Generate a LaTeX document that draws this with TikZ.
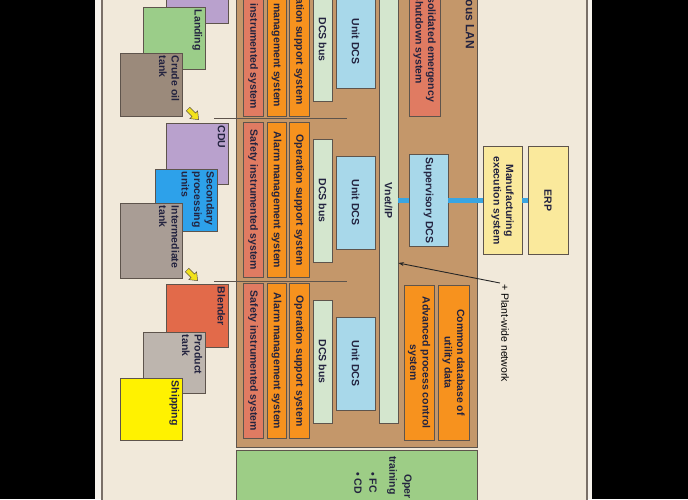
\documentclass[tikz,border=0pt]{standalone}
\usepackage{fontspec}
\setmainfont{Liberation Sans}
\usetikzlibrary{arrows.meta}

\definecolor{paper}{HTML}{F1E9DA}
\definecolor{margin}{HTML}{F7F3EC}
\definecolor{frame}{HTML}{7A7068}
\definecolor{edge}{HTML}{5E544C}
\definecolor{ink}{HTML}{23233F}
\definecolor{lanbrown}{HTML}{C4976A}
\definecolor{sisred}{HTML}{E07B62}
\definecolor{orng}{HTML}{F7921E}
\definecolor{busgreen}{HTML}{D4E6CE}
\definecolor{dcsblue}{HTML}{A8D8EA}
\definecolor{trgreen}{HTML}{9DCD86}
\definecolor{mesyellow}{HTML}{FAE99C}
\definecolor{lilac}{HTML}{B9A1CD}
\definecolor{landgreen}{HTML}{9BCD89}
\definecolor{crudebrown}{HTML}{9B8A7B}
\definecolor{tankgray}{HTML}{A99D95}
\definecolor{secblue}{HTML}{2DA1EA}
\definecolor{blendred}{HTML}{E26A4A}
\definecolor{prodgray}{HTML}{BDB5AE}
\definecolor{shipyellow}{HTML}{FFF200}
\definecolor{netblue}{HTML}{39A5E2}
\definecolor{arrowyellow}{HTML}{F2E21A}

\tikzset{
  box/.style={draw=edge, line width=0.8pt, inner sep=1pt, align=center, text=ink,
    font=\bfseries\fontsize{10.5}{12.5}\selectfont},
  stage/.style={draw=edge, line width=0.8pt, minimum width=62, minimum height=62},
  tag/.style={anchor=north west, inner sep=3pt, align=left, text=ink,
    font=\bfseries\fontsize{10.5}{12.5}\selectfont},
  sepline/.style={draw=edge, line width=0.9pt},
  netline/.style={draw=netblue, line width=5pt},
  flowarrow/.style={fill=arrowyellow, draw=edge, line width=0.5pt},
  note/.style={anchor=west, inner sep=0pt, text=ink, font=\bfseries\fontsize{10.5}{12.5}\selectfont}
}

\begin{document}
\begin{tikzpicture}[x=1pt, y=1pt, rotate=-90, transform shape]

  \useasboundingbox (0,0) rectangle (499,688);
  \fill[black] (0,0) rectangle (499,688);
  \fill[margin] (0,95) rectangle (499,592);
  \draw[draw=frame, fill=paper, line width=1.2pt] (-10,102) rectangle (510,587);

  \draw[draw=edge, fill=lanbrown, line width=1pt] (-10,236) rectangle (447,477);
  \draw[draw=edge, fill=trgreen, line width=1pt] (450,236) rectangle (510,477);
  \node[note, font=\bfseries\fontsize{12}{14}\selectfont] (lanname) at (-0.5,470) {ous LAN};

  \begin{scope}
    \node[box, fill=sisred, minimum width=155, minimum height=20] (sis1) at (39,253) {Safety instrumented system};
    \node[box, fill=orng, minimum width=155, minimum height=19] (ams1) at (39,276.5) {Alarm management system};
    \node[box, fill=orng, minimum width=155, minimum height=20] (oss1) at (39,299) {Operation support system};
    \node[box, fill=busgreen, minimum width=123, minimum height=19] (bus1) at (39.5,322.5) {DCS bus};
    \node[box, fill=dcsblue, minimum width=93, minimum height=39] (udcs1) at (41.5,355.5) {Unit DCS};
  \end{scope}

  \begin{scope}[xshift=161pt]
    \node[box, fill=sisred, minimum width=155, minimum height=20] (sis2) at (39,253) {Safety instrumented system};
    \node[box, fill=orng, minimum width=155, minimum height=19] (ams2) at (39,276.5) {Alarm management system};
    \node[box, fill=orng, minimum width=155, minimum height=20] (oss2) at (39,299) {Operation support system};
    \node[box, fill=busgreen, minimum width=123, minimum height=19] (bus2) at (39.5,322.5) {DCS bus};
    \node[box, fill=dcsblue, minimum width=93, minimum height=39] (udcs2) at (41.5,355.5) {Unit DCS};
  \end{scope}

  \begin{scope}[xshift=322pt]
    \node[box, fill=sisred, minimum width=155, minimum height=20] (sis3) at (39,253) {Safety instrumented system};
    \node[box, fill=orng, minimum width=155, minimum height=19] (ams3) at (39,276.5) {Alarm management system};
    \node[box, fill=orng, minimum width=155, minimum height=20] (oss3) at (39,299) {Operation support system};
    \node[box, fill=busgreen, minimum width=123, minimum height=19] (bus3) at (39.5,322.5) {DCS bus};
    \node[box, fill=dcsblue, minimum width=93, minimum height=39] (udcs3) at (41.5,355.5) {Unit DCS};
  \end{scope}

  \draw[sepline] (118,214) -- (118,347);
  \draw[sepline] (281,214) -- (281,347);

  \node[box, fill=busgreen, minimum width=445, minimum height=19] (vnet) at (200.5,388.5) {Vnet/IP};
  \node[box, fill=sisred, minimum width=153, minimum height=31] (ceds) at (39.5,424.5) {Consolidated emergency\\shutdown system};
  \node[box, fill=dcsblue, minimum width=92, minimum height=39] (sup) at (200.5,428.5) {Supervisory DCS};
  \node[box, fill=orng, minimum width=155, minimum height=30] (apc) at (362.5,419) {Advanced process control\\system};
  \node[box, fill=orng, minimum width=155, minimum height=31] (cdb) at (362.5,453.5) {Common database of\\utility data};
  \node[box, fill=mesyellow, minimum width=108, minimum height=39] (mes) at (200.5,502.5) {Manufacturing\\execution system};
  \node[box, fill=mesyellow, minimum width=108, minimum height=40] (erp) at (200.5,548) {ERP};

  \draw[netline] (vnet.north) -- (sup.south) (sup.north) -- (mes.south) (mes.north) -- (erp.south);

  \node[stage, fill=lilac, minimum width=63] (feed) at (-8.5,197) {};
  \node[stage, fill=landgreen] (landing) at (38,174) [label={[tag]north west:Landing}] {};
  \node[stage, fill=crudebrown, minimum width=63] (crude) at (84.5,151) [label={[tag]north west:{Crude oil\\tank}}] {};
  \begin{scope}[shift={(114,193)}, rotate=45]
    \draw[flowarrow] (-7,-2.5) -- (1,-2.5) -- (1,-5.5) -- (8,0) -- (1,5.5) -- (1,2.5) -- (-7,2.5) -- cycle;
  \end{scope}
  \node[stage, fill=lilac, minimum width=61] (cdu) at (153.5,197) [label={[tag]north west:CDU}] {};
  \node[stage, fill=secblue] (spu) at (200,186) [label={[tag]north west:{Secondary\\processing\\units}}] {};
  \node[stage, fill=tankgray, minimum width=75] (itank) at (240.5,151) [label={[tag]north west:{Intermediate\\tank}}] {};
  \begin{scope}[shift={(275,192)}, rotate=45]
    \draw[flowarrow] (-7,-2.5) -- (1,-2.5) -- (1,-5.5) -- (8,0) -- (1,5.5) -- (1,2.5) -- (-7,2.5) -- cycle;
  \end{scope}
  \node[stage, fill=blendred, minimum width=63] (blender) at (315.5,197) [label={[tag]north west:Blender}] {};
  \node[stage, fill=prodgray, minimum width=61] (ptank) at (362.5,174) [label={[tag]north west:{Product\\tank}}] {};
  \node[stage, fill=shipyellow] (ship) at (409,151) [label={[tag]north west:Shipping}] {};

  \node[note, inner sep=1pt, text=black, font=\fontsize{10.5}{12.5}\selectfont] (pwn) at (283,505) {+ Plant-wide network};
  \draw[black!85, line width=0.9pt, -{Stealth[length=5.5pt, width=4pt]}] (pwn.south west) -- (vnet.9.5);

  \node[note] (trainhead) at (474,407) {Oper};
  \node[note] (trainsub) at (456,392) {training};
  \node[note] (trainfc) at (472,373) {\textbullet\ FC};
  \node[note] (traincd) at (472,358) {\textbullet\ CD};

\end{tikzpicture}
\end{document}
